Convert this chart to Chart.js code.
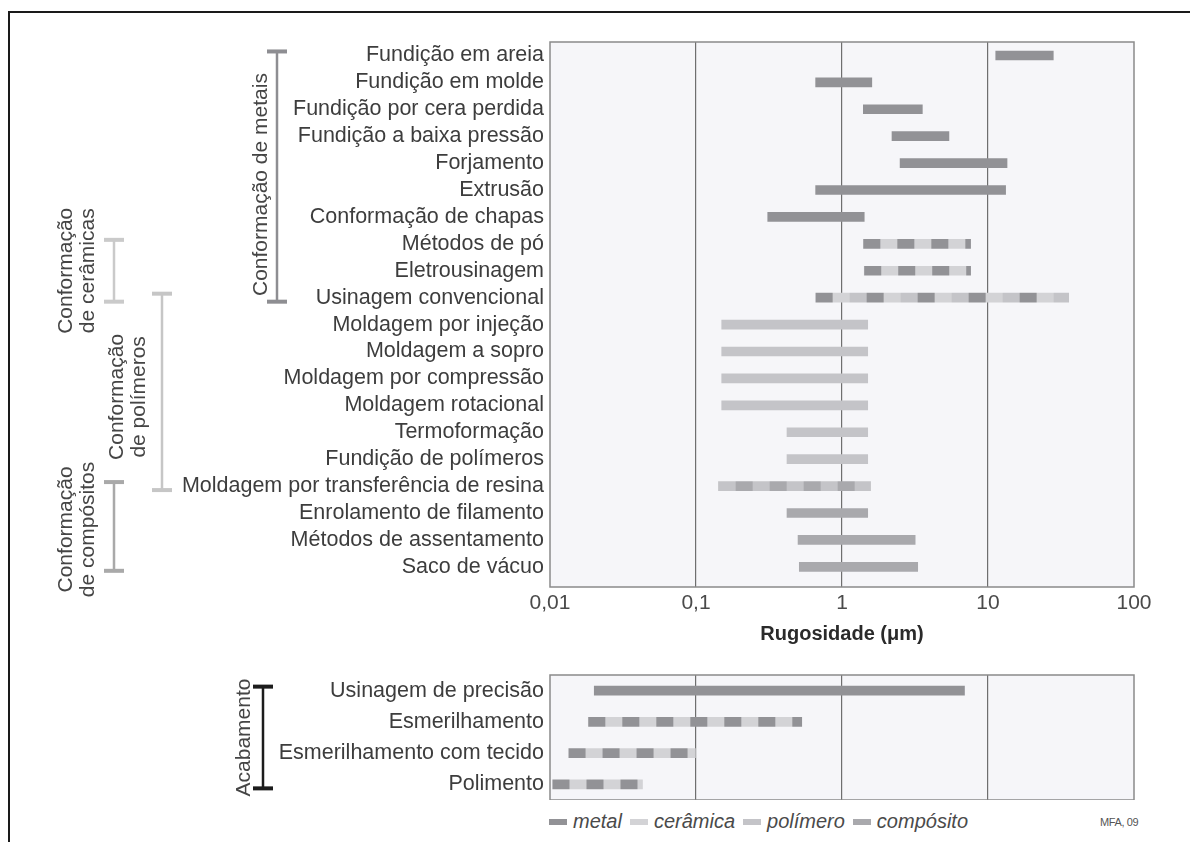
<!DOCTYPE html>
<html lang="pt">
<head>
<meta charset="utf-8">
<title>Rugosidade dos processos</title>
<script src="https://cdn.jsdelivr.net/npm/chart.js@4.4.1/dist/chart.umd.min.js"></script>
<style>
  html, body { margin: 0; padding: 0; background: #fff; }
  body { position: relative; width: 1190px; height: 842px; overflow: hidden;
         font-family: "Liberation Sans", Arial, sans-serif; }
  .moldura-topo { position: absolute; left: 8px; top: 11px; right: 0; height: 2px; background: #1a1a1a; }
  .moldura-esq { position: absolute; left: 8px; top: 11px; bottom: 0; width: 2px; background: #1a1a1a; }
  #grafConformacao { position: absolute; left: 0; top: 0; }
  #grafAcabamento { position: absolute; left: 0; top: 660px; }
  #legenda { position: absolute; left: 549px; top: 810px; display: flex; align-items: center;
             font-style: italic; font-size: 20px; color: #4a4a4a; }
  #legenda .item { display: flex; align-items: center; margin-right: 8px; }
  #legenda .cor { display: inline-block; width: 18px; height: 6px; margin-right: 6px; }
  #fonte { position: absolute; left: 1100px; top: 816px; font-size: 11px; letter-spacing: -0.4px; color: #555; }
</style>
</head>
<body>
<div class="moldura-topo"></div>
<div class="moldura-esq"></div>
<canvas id="grafConformacao" width="1190" height="660"></canvas>
<canvas id="grafAcabamento" width="1190" height="140"></canvas>
<div id="legenda"></div>
<div id="fonte">MFA, 09</div>

<script>
// processos de conformação e faixa de rugosidade (µm)
const processos = [
  'Fundição em areia', 'Fundição em molde', 'Fundição por cera perdida', 'Fundição a baixa pressão',
  'Forjamento', 'Extrusão', 'Conformação de chapas', 'Métodos de pó', 'Eletrousinagem',
  'Usinagem convencional', 'Moldagem por injeção', 'Moldagem a sopro', 'Moldagem por compressão',
  'Moldagem rotacional', 'Termoformação', 'Fundição de polímeros',
  'Moldagem por transferência de resina', 'Enrolamento de filamento',
  'Métodos de assentamento', 'Saco de vácuo'
];
const rugMin = [11.3, 0.66, 1.4, 2.2, 2.5, 0.66, 0.31, 1.4, 1.42, 0.66,
                0.15, 0.15, 0.15, 0.15, 0.42, 0.42, 0.143, 0.42, 0.5, 0.51];
const rugMax = [28, 1.6, 3.55, 5.4, 13.5, 13.2, 1.42, 7.6, 7.6, 35.7,
                1.5, 1.5, 1.5, 1.5, 1.5, 1.5, 1.57, 1.5, 3.17, 3.3];
const materiais = [
  ['metal'], ['metal'], ['metal'], ['metal'], ['metal'], ['metal'], ['metal'],
  ['metal', 'cerâmica'], ['metal', 'cerâmica'], ['metal', 'cerâmica', 'polímero'],
  ['polímero'], ['polímero'], ['polímero'], ['polímero'], ['polímero'], ['polímero'],
  ['polímero', 'compósito'], ['compósito'], ['compósito'], ['compósito']
];

// processos de acabamento
const acabamentos = ['Usinagem de precisão', 'Esmerilhamento', 'Esmerilhamento com tecido', 'Polimento'];
const acabMin = [0.0201, 0.0183, 0.0134, 0.0104];
const acabMax = [6.9, 0.53, 0.099, 0.043];
const acabMateriais = [['metal'], ['metal', 'cerâmica'], ['metal', 'cerâmica'], ['metal', 'cerâmica']];

const decadas = [0.01, 0.1, 1, 10, 100];
const materiaisLegenda = ['metal', 'cerâmica', 'polímero', 'compósito'];

// agrupamentos (índices das linhas)
const grupos = [
  { nome: ['Conformação de metais'], de: 0, ate: 9 },
  { nome: ['Conformação', 'de cerâmicas'], de: 7, ate: 9 },
  { nome: ['Conformação', 'de polímeros'], de: 9, ate: 16 },
  { nome: ['Conformação', 'de compósitos'], de: 16, ate: 19 }
];
const gruposAcab = [{ nome: ['Acabamento'], de: 0, ate: 3 }];

const coresMaterial = {
  'metal': '#929296',
  'cerâmica': '#d3d3d6',
  'polímero': '#c4c4c8',
  'compósito': '#a9a9ad'
};
const estiloGrupos = [
  { x: 277, xTexto: 261, cor: '#8e8e92', dy: 8 },
  { x: 114, xTexto: 77, cor: '#cacaca', dy: 0 },
  { x: 162, xTexto: 128, cor: '#c6c6c6', dy: 5 },
  { x: 114, xTexto: 77, cor: '#a9a9a9', dy: 3 }
];
const estiloAcab = [{ x: 263, xTexto: 244, cor: '#1c1c1c', dy: 0 }];

const FONTE = '"Liberation Sans", Arial, sans-serif';
Chart.defaults.font.family = FONTE;

const barras = (min, max) => min.map((v, i) => ({ y: i, x: [v, max[i]] }));

// barra listrada quando o processo serve a mais de um material
function preencher(c, lista) {
  if (c.type !== 'data') return coresMaterial.metal;
  const mats = lista[c.dataIndex];
  if (mats.length === 1) return coresMaterial[mats[0]];
  const x0 = c.chart.scales.x.getPixelForValue(c.raw.x[0]);
  if (!isFinite(x0)) return coresMaterial[mats[0]];
  const seg = 17;
  const tile = document.createElement('canvas');
  tile.width = seg * mats.length;
  tile.height = 1;
  const t = tile.getContext('2d');
  mats.forEach((m, i) => { t.fillStyle = coresMaterial[m]; t.fillRect(i * seg, 0, seg, 1); });
  const pat = c.chart.ctx.createPattern(tile, 'repeat');
  pat.setTransform(new DOMMatrix().translateSelf(x0, 0));
  return pat;
}

const caixaPlot = {
  id: 'caixaPlot',
  beforeDraw(chart) {
    const { ctx, chartArea: a } = chart;
    ctx.save();
    ctx.fillStyle = '#f6f6f9';
    ctx.fillRect(a.left, a.top, a.width, a.height);
    ctx.restore();
  },
  afterDraw(chart) {
    const { ctx, chartArea: a } = chart;
    ctx.save();
    ctx.strokeStyle = '#8a8a8a';
    ctx.lineWidth = 1.5;
    ctx.strokeRect(a.left, a.top, a.width, a.height);
    ctx.restore();
  }
};

function chaves(lista, estilos) {
  return {
    id: 'chaves',
    afterDraw(chart) {
      const { ctx } = chart;
      const ys = chart.scales.y;
      lista.forEach((g, k) => {
        const e = estilos[k];
        const y0 = ys.getPixelForValue(g.de) - 4;
        const y1 = ys.getPixelForValue(g.ate) + 4;
        ctx.save();
        ctx.fillStyle = e.cor;
        ctx.fillRect(e.x - 1.25, y0, 2.5, y1 - y0);
        ctx.fillRect(e.x - 10, y0 - 2, 20, 4);
        ctx.fillRect(e.x - 10, y1 - 2, 20, 4);
        ctx.translate(e.xTexto, (y0 + y1) / 2 + e.dy);
        ctx.rotate(-Math.PI / 2);
        ctx.font = '21px ' + FONTE;
        ctx.fillStyle = '#454545';
        ctx.textAlign = 'center';
        ctx.textBaseline = 'middle';
        g.nome.forEach((linha, i) => ctx.fillText(linha, 0, (i - (g.nome.length - 1) / 2) * 22));
        ctx.restore();
      });
    }
  };
}

function eixoX(comRotulos) {
  return {
    type: 'logarithmic',
    min: 0.01,
    max: 100,
    afterBuildTicks: s => { s.ticks = decadas.map(v => ({ value: v })); },
    afterFit: s => { s.height = comRotulos ? 73 : 0; },
    border: { display: false },
    grid: {
      drawTicks: false,
      lineWidth: 1.2,
      color: c => (c.tick && (c.tick.value === 0.01 || c.tick.value === 100)) ? 'rgba(0,0,0,0)' : '#6f6f6f'
    },
    ticks: {
      display: comRotulos,
      autoSkip: false,
      maxRotation: 0,
      padding: 4,
      color: '#4a4a4a',
      font: { size: 21 },
      callback: v => String(v).replace('.', ',')
    },
    title: {
      display: comRotulos,
      text: 'Rugosidade (μm)',
      color: '#2a2a2a',
      font: { size: 20, weight: 'bold' },
      padding: { top: 0, bottom: 14 }
    }
  };
}

// eixo das categorias: largura fixa e sem margem extra dos rótulos
const ajustarY = s => { s.width = 550; s.paddingTop = 0; s.paddingBottom = 0; };

const rotulosY = {
  autoSkip: false,
  padding: 6,
  color: '#3d3d3d',
  font: { size: 21.5 }
};

new Chart(document.getElementById('grafConformacao'), {
  type: 'bar',
  data: {
    datasets: [{
      data: barras(rugMin, rugMax),
      backgroundColor: c => preencher(c, materiais),
      barThickness: 9,
      borderWidth: 0
    }]
  },
  options: {
    indexAxis: 'y',
    responsive: false,
    animation: false,
    events: [],
    layout: { padding: { top: 42, right: 56, left: 0, bottom: 0 } },
    plugins: { legend: { display: false }, tooltip: { enabled: false } },
    scales: {
      x: eixoX(true),
      y: {
        type: 'linear',
        reverse: true,
        offset: false,
        min: -0.5,
        max: 19.75,
        afterBuildTicks: s => { s.ticks = processos.map((_, i) => ({ value: i })); },
        afterFit: ajustarY,
        grid: { display: false, drawTicks: false },
        border: { display: false },
        ticks: { ...rotulosY, callback: v => processos[v] }
      }
    }
  },
  plugins: [caixaPlot, chaves(grupos, estiloGrupos)]
});

new Chart(document.getElementById('grafAcabamento'), {
  type: 'bar',
  data: {
    labels: acabamentos,
    datasets: [{
      data: barras(acabMin, acabMax),
      backgroundColor: c => preencher(c, acabMateriais),
      barThickness: 9,
      borderWidth: 0
    }]
  },
  options: {
    indexAxis: 'y',
    responsive: false,
    animation: false,
    events: [],
    layout: { padding: { top: 15, right: 56, left: 0, bottom: 0 } },
    plugins: { legend: { display: false }, tooltip: { enabled: false } },
    scales: {
      x: eixoX(false),
      y: {
        type: 'category',
        afterFit: ajustarY,
        grid: { display: false, drawTicks: false },
        border: { display: false },
        ticks: rotulosY
      }
    }
  },
  plugins: [caixaPlot, chaves(gruposAcab, estiloAcab)]
});

// legenda dos materiais
const legenda = document.getElementById('legenda');
materiaisLegenda.forEach(m => {
  const item = document.createElement('span');
  item.className = 'item';
  item.innerHTML = `<span class="cor" style="background:${coresMaterial[m]}"></span>${m}`;
  legenda.appendChild(item);
});
</script>
</body>
</html>
